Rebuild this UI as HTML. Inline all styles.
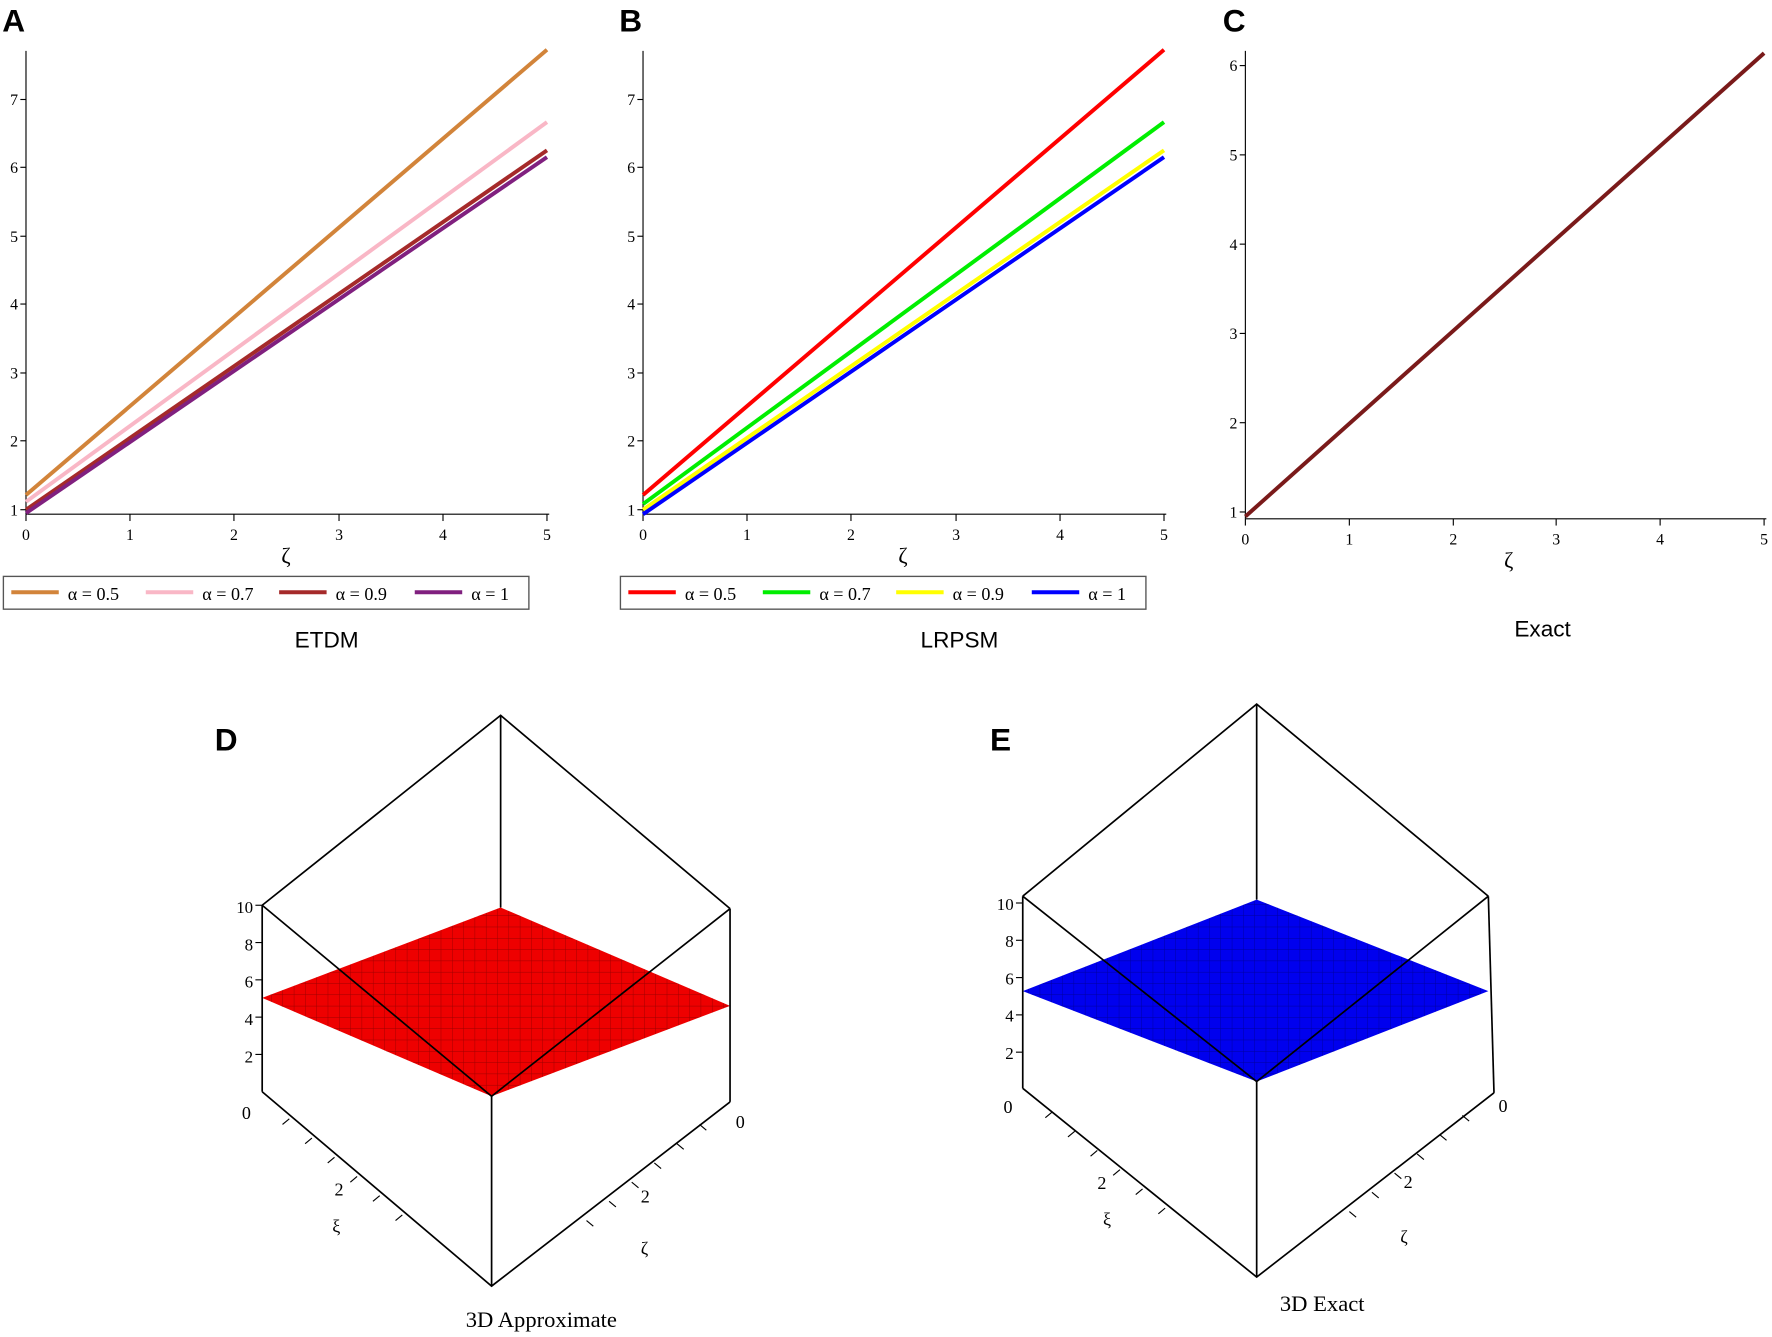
<!DOCTYPE html>
<html><head><meta charset="utf-8"><style>
html,body{margin:0;padding:0;background:#fff;}
svg{display:block;}
text{font-family:"Liberation Serif",serif;}
.s{font-family:"Liberation Sans",sans-serif;}
</style></head><body>
<svg width="1772" height="1337" viewBox="0 0 1568 1183" xmlns="http://www.w3.org/2000/svg">
<defs>
<pattern id="gr" width="10" height="10" patternUnits="userSpaceOnUse"><path d="M0 0H10M0 0V10" stroke="#600" stroke-width="0.8"/></pattern>
<pattern id="gb" width="10" height="10" patternUnits="userSpaceOnUse"><path d="M0 0H10M0 0V10" stroke="#006" stroke-width="0.8"/></pattern>
</defs>
<g font-family="Liberation Sans" font-weight="bold" font-size="28">
<text x="2" y="28" class="s">A</text><text x="548" y="28" class="s">B</text><text x="1082" y="28" class="s">C</text>
<text x="190" y="664" class="s">D</text><text x="876" y="664" class="s">E</text>
</g>

<!-- Panel A -->
<g id="pa">
<line x1="23" y1="45" x2="23" y2="455" stroke="#000"/>
<line x1="23" y1="455" x2="486" y2="455" stroke="#000"/>
<g stroke="#000">
<line x1="23" y1="451" x2="18" y2="451"/><line x1="23" y1="390" x2="18" y2="390"/><line x1="23" y1="330" x2="18" y2="330"/><line x1="23" y1="269" x2="18" y2="269"/><line x1="23" y1="209" x2="18" y2="209"/><line x1="23" y1="148" x2="18" y2="148"/><line x1="23" y1="88" x2="18" y2="88"/>
<line x1="23" y1="455" x2="23" y2="461"/><line x1="115" y1="455" x2="115" y2="461"/><line x1="207" y1="455" x2="207" y2="461"/><line x1="300" y1="455" x2="300" y2="461"/><line x1="392" y1="455" x2="392" y2="461"/><line x1="484" y1="455" x2="484" y2="461"/>
</g>
<g font-size="14" text-anchor="end">
<text x="16" y="456">1</text><text x="16" y="395">2</text><text x="16" y="335">3</text><text x="16" y="274">4</text><text x="16" y="214">5</text><text x="16" y="153">6</text><text x="16" y="93">7</text>
</g>
<g font-size="14" text-anchor="middle">
<text x="23" y="478">0</text><text x="115" y="478">1</text><text x="207" y="478">2</text><text x="300" y="478">3</text><text x="392" y="478">4</text><text x="484" y="478">5</text>
<text x="253" y="498" font-size="20">ζ</text>
</g>
</g>
<g stroke-width="3.5" fill="none">
<line x1="23" y1="438" x2="484" y2="44" stroke="#d2843a"/>
<line x1="23" y1="444" x2="484" y2="108" stroke="#f9b7c6"/>
<line x1="23" y1="451" x2="484" y2="133" stroke="#a52a2a"/>
<line x1="23" y1="454" x2="484" y2="139" stroke="#80207f"/>
</g>
<rect x="3" y="510" width="465" height="29" fill="none" stroke="#555" stroke-width="1.2"/>
<g stroke-width="3.5">
<line x1="10" y1="524" x2="52" y2="524" stroke="#d2843a"/>
<line x1="129" y1="524" x2="171" y2="524" stroke="#f9b7c6"/>
<line x1="247" y1="524" x2="289" y2="524" stroke="#a52a2a"/>
<line x1="367" y1="524" x2="409" y2="524" stroke="#80207f"/>
</g>
<g font-size="16"><text x="60" y="531">α = 0.5</text><text x="179" y="531">α = 0.7</text><text x="297" y="531">α = 0.9</text><text x="417" y="531">α = 1</text></g>
<text x="289" y="573" font-size="20" text-anchor="middle" class="s">ETDM</text>

<!-- Panel B -->
<use href="#pa" x="546"/>
<g stroke-width="3.5" fill="none">
<line x1="569" y1="438" x2="1030" y2="44" stroke="#f00"/>
<line x1="569" y1="446" x2="1030" y2="108" stroke="#0e0"/>
<line x1="569" y1="451" x2="1030" y2="133" stroke="#ff0"/>
<line x1="569" y1="455" x2="1030" y2="139" stroke="#00f"/>
</g>
<rect x="549" y="510" width="465" height="29" fill="none" stroke="#555" stroke-width="1.2"/>
<g stroke-width="3.5">
<line x1="556" y1="524" x2="598" y2="524" stroke="#f00"/>
<line x1="675" y1="524" x2="717" y2="524" stroke="#0e0"/>
<line x1="793" y1="524" x2="835" y2="524" stroke="#ff0"/>
<line x1="913" y1="524" x2="955" y2="524" stroke="#00f"/>
</g>
<g font-size="16"><text x="606" y="531">α = 0.5</text><text x="725" y="531">α = 0.7</text><text x="843" y="531">α = 0.9</text><text x="963" y="531">α = 1</text></g>
<text x="849" y="573" font-size="20" text-anchor="middle" class="s">LRPSM</text>

<!-- Panel C -->
<line x1="1102" y1="45" x2="1102" y2="459" stroke="#000"/>
<line x1="1102" y1="459" x2="1563" y2="459" stroke="#000"/>
<g stroke="#000">
<line x1="1102" y1="453" x2="1097" y2="453"/><line x1="1102" y1="374" x2="1097" y2="374"/><line x1="1102" y1="295" x2="1097" y2="295"/><line x1="1102" y1="216" x2="1097" y2="216"/><line x1="1102" y1="137" x2="1097" y2="137"/><line x1="1102" y1="58" x2="1097" y2="58"/>
<line x1="1102" y1="459" x2="1102" y2="465"/><line x1="1194" y1="459" x2="1194" y2="465"/><line x1="1286" y1="459" x2="1286" y2="465"/><line x1="1377" y1="459" x2="1377" y2="465"/><line x1="1469" y1="459" x2="1469" y2="465"/><line x1="1561" y1="459" x2="1561" y2="465"/>
</g>
<g font-size="14" text-anchor="end">
<text x="1095" y="458">1</text><text x="1095" y="379">2</text><text x="1095" y="300">3</text><text x="1095" y="221">4</text><text x="1095" y="142">5</text><text x="1095" y="63">6</text>
</g>
<g font-size="14" text-anchor="middle">
<text x="1102" y="482">0</text><text x="1194" y="482">1</text><text x="1286" y="482">2</text><text x="1377" y="482">3</text><text x="1469" y="482">4</text><text x="1561" y="482">5</text>
<text x="1335" y="502" font-size="20">ζ</text>
</g>
<line x1="1102" y1="457" x2="1561" y2="47" stroke="#7a1a1a" stroke-width="3.5"/>
<text x="1365" y="563" font-size="20" text-anchor="middle" class="s">Exact</text>

<!-- Panel D -->
<polygon points="232,883 443,803 646,890 435,970" fill="#e00"/>
<polygon points="232,883 443,803 646,890 435,970" fill="url(#gr)" opacity="0.6"/>
<g stroke="#000" stroke-width="1.5" fill="none">
<polyline points="232,801 443,633 646,804"/>
<line x1="443" y1="633" x2="443" y2="803"/>
<line x1="232" y1="801" x2="232" y2="966"/>
<line x1="646" y1="804" x2="646" y2="975"/>
<line x1="435" y1="970" x2="435" y2="1138"/>
<polyline points="232,966 435,1138 646,975"/>
<polyline points="232,801 435,970 646,804"/>
</g>
<g stroke="#000"><line x1="232" y1="801" x2="226" y2="801"/><line x1="232" y1="834" x2="226" y2="834"/><line x1="232" y1="867" x2="226" y2="867"/><line x1="232" y1="900" x2="226" y2="900"/><line x1="232" y1="933" x2="226" y2="933"/></g>
<g font-size="15" text-anchor="end"><text x="224" y="808">10</text><text x="224" y="841">8</text><text x="224" y="874">6</text><text x="224" y="907">4</text><text x="224" y="940">2</text></g>
<g stroke="#000"><line x1="250" y1="995" x2="256" y2="990"/><line x1="270" y1="1012" x2="276" y2="1007"/><line x1="290" y1="1029" x2="296" y2="1024"/><line x1="310" y1="1046" x2="316" y2="1041"/><line x1="330" y1="1063" x2="336" y2="1058"/><line x1="350" y1="1080" x2="356" y2="1075"/>
<line x1="625" y1="1000" x2="619" y2="995"/><line x1="605" y1="1017" x2="599" y2="1012"/><line x1="585" y1="1034" x2="579" y2="1029"/><line x1="565" y1="1051" x2="559" y2="1046"/><line x1="545" y1="1068" x2="539" y2="1063"/><line x1="525" y1="1085" x2="519" y2="1080"/></g>
<g font-size="16"><text x="214" y="990">0</text><text x="296" y="1058">2</text><text x="294" y="1090">ξ</text><text x="651" y="998">0</text><text x="567" y="1064">2</text><text x="567" y="1110">ζ</text></g>
<text x="479" y="1174" font-size="20" text-anchor="middle">3D Approximate</text>

<!-- Panel E -->
<polygon points="905,877 1112,796 1317,877 1112,957" fill="#00e"/>
<polygon points="905,877 1112,796 1317,877 1112,957" fill="url(#gb)" opacity="0.6"/>
<g stroke="#000" stroke-width="1.5" fill="none">
<polyline points="905,793 1112,623 1317,793"/>
<line x1="1112" y1="623" x2="1112" y2="796"/>
<line x1="905" y1="793" x2="905" y2="963"/>
<line x1="1317" y1="793" x2="1322" y2="967"/>
<line x1="1112" y1="957" x2="1112" y2="1130"/>
<polyline points="905,963 1112,1130 1322,967"/>
<polyline points="905,793 1112,957 1317,793"/>
</g>
<g stroke="#000"><line x1="905" y1="799" x2="899" y2="799"/><line x1="905" y1="832" x2="899" y2="832"/><line x1="905" y1="865" x2="899" y2="865"/><line x1="905" y1="898" x2="899" y2="898"/><line x1="905" y1="931" x2="899" y2="931"/></g>
<g font-size="15" text-anchor="end"><text x="897" y="805">10</text><text x="897" y="838">8</text><text x="897" y="871">6</text><text x="897" y="904">4</text><text x="897" y="937">2</text></g>
<g stroke="#000"><line x1="925" y1="989" x2="931" y2="984"/><line x1="945" y1="1006" x2="951" y2="1001"/><line x1="965" y1="1023" x2="971" y2="1018"/><line x1="985" y1="1040" x2="991" y2="1035"/><line x1="1005" y1="1057" x2="1011" y2="1052"/><line x1="1025" y1="1074" x2="1031" y2="1069"/>
<line x1="1300" y1="992" x2="1294" y2="987"/><line x1="1280" y1="1009" x2="1274" y2="1004"/><line x1="1260" y1="1026" x2="1254" y2="1021"/><line x1="1240" y1="1043" x2="1234" y2="1038"/><line x1="1220" y1="1060" x2="1214" y2="1055"/><line x1="1200" y1="1077" x2="1194" y2="1072"/></g>
<g font-size="16"><text x="888" y="985">0</text><text x="971" y="1052">2</text><text x="976" y="1084">ξ</text><text x="1326" y="984">0</text><text x="1242" y="1051">2</text><text x="1239" y="1100">ζ</text></g>
<text x="1170" y="1160" font-size="20" text-anchor="middle">3D Exact</text>
</svg>
</body></html>
